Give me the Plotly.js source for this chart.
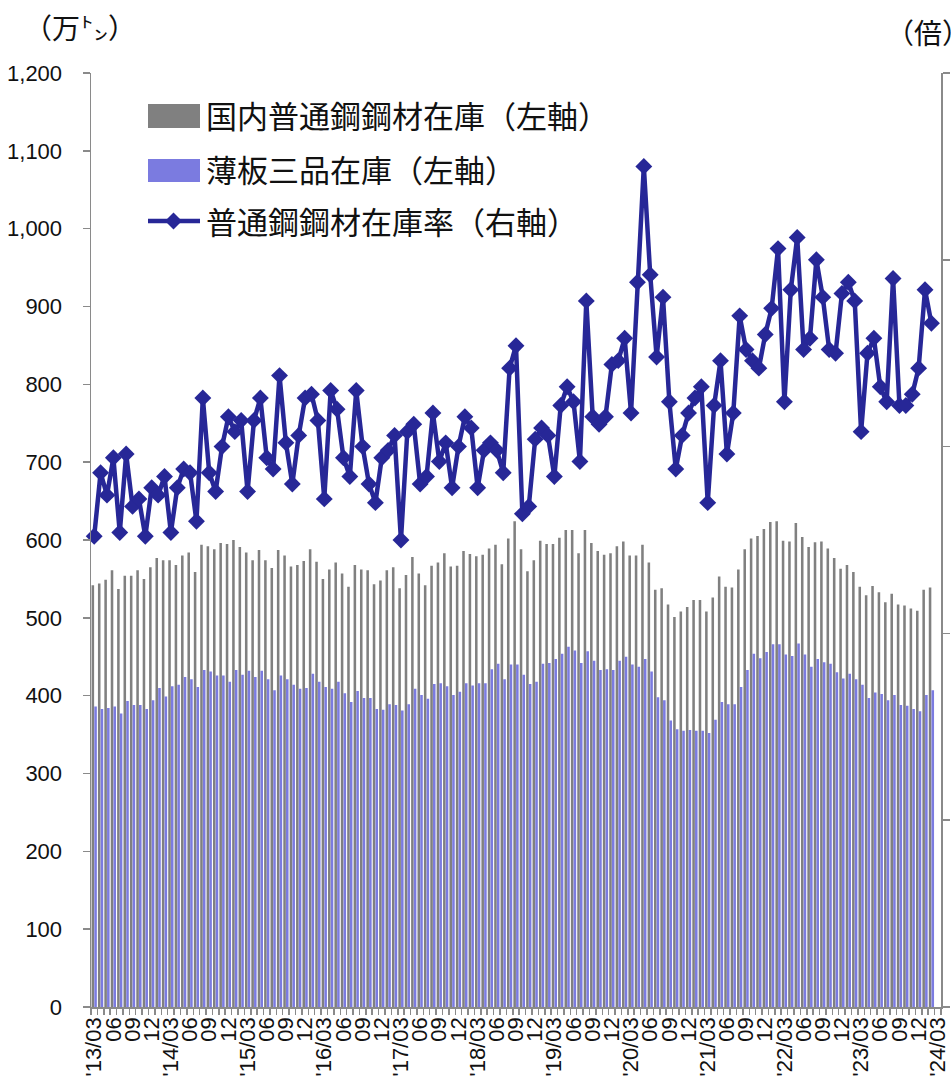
<!DOCTYPE html>
<html><head><meta charset="utf-8">
<script src="https://cdn.plot.ly/plotly-3.0.1.min.js"></script>
<style>html,body{margin:0;padding:0;background:#fff;} #chart{width:951px;height:1085px;}</style>
</head><body><div id="chart"></div>
<script>
// categories: 2013/03 .. 2024/03 (133 months; data through 2024/02)
const months = [];
for (let y = 2013; y <= 2024; y++) {
  for (let m = 1; m <= 12; m++) {
    if ((y === 2013 && m < 3) || (y === 2024 && m > 3)) continue;
    months.push(y + '/' + String(m).padStart(2, '0'));
  }
}
const tickLabels = months.map((s, i) => {
  if (i % 3 !== 0) return '';
  const mm = s.slice(5);
  return mm === '03' ? "'" + s.slice(2) : mm;
});

// 国内普通鋼鋼材在庫（万トン）
const steelStock = [
  542,544,549,561,537,554,554,561,550,565,577,574,
  574,568,580,584,559,594,592,588,596,595,600,591,
  584,574,587,574,564,587,580,566,568,573,588,572,
  550,562,571,557,540,568,562,561,543,548,561,565,
  538,555,578,557,542,567,571,583,566,567,586,582,
  579,581,589,594,569,602,624,588,560,574,599,595,
  595,603,613,613,583,613,596,586,581,583,592,598,
  580,580,594,571,536,538,517,501,508,514,523,523,
  508,526,553,540,539,562,588,602,605,614,623,624,
  599,598,622,604,591,597,598,589,577,563,568,559,
  540,529,541,533,520,531,517,516,512,509,536,539
];
// 薄板三品在庫（万トン）
const sheetStock = [
  386,383,384,386,377,393,388,388,383,394,410,399,
  412,414,424,421,411,433,431,426,426,418,433,427,
  432,424,432,421,407,426,421,414,409,410,428,418,
  411,409,418,403,392,406,397,397,383,382,389,388,
  381,389,409,401,396,415,416,412,401,405,416,413,
  416,416,434,441,421,440,440,427,415,418,441,442,
  447,454,463,458,442,457,445,433,434,433,445,450,
  440,437,447,431,398,394,368,357,355,356,355,355,
  352,369,392,389,389,411,433,454,448,456,466,466,
  453,451,467,453,437,447,443,441,430,422,428,421,
  414,397,404,402,394,401,388,387,383,380,401,407
];
// 普通鋼鋼材在庫率（倍）
const stockRatio = [
  1.26,1.43,1.37,1.47,1.27,1.48,1.34,1.36,1.26,1.39,1.37,1.42,
  1.27,1.39,1.44,1.43,1.30,1.63,1.43,1.38,1.50,1.58,1.54,1.57,
  1.38,1.57,1.63,1.47,1.44,1.69,1.51,1.40,1.53,1.63,1.64,1.57,
  1.36,1.65,1.60,1.47,1.42,1.65,1.50,1.40,1.35,1.47,1.49,1.53,
  1.25,1.54,1.56,1.40,1.42,1.59,1.46,1.51,1.39,1.50,1.58,1.55,
  1.39,1.49,1.51,1.49,1.43,1.71,1.77,1.32,1.34,1.52,1.55,1.53,
  1.42,1.61,1.66,1.62,1.46,1.89,1.58,1.56,1.58,1.72,1.73,1.79,
  1.59,1.94,2.25,1.96,1.74,1.90,1.62,1.44,1.53,1.59,1.63,1.66,
  1.35,1.61,1.73,1.48,1.59,1.85,1.76,1.73,1.71,1.80,1.87,2.03,
  1.62,1.92,2.06,1.76,1.79,2.00,1.90,1.76,1.75,1.91,1.94,1.89,
  1.54,1.75,1.79,1.66,1.62,1.95,1.61,1.61,1.64,1.71,1.92,1.83
];
const leftTicks = [0,100,200,300,400,500,600,700,800,900,1000,1100,1200];
const legendNames = ['国内普通鋼鋼材在庫（左軸）', '薄板三品在庫（左軸）', '普通鋼鋼材在庫率（右軸）'];

const GREY = '#808080', BLUE = '#7b7be0', NAVY = '#272797', AXIS = '#8a8a8a';
const dataMonths = months.slice(0, steelStock.length);

const traces = [
  {type: 'bar', x: dataMonths, y: steelStock, name: legendNames[0], marker: {color: GREY}, hoverinfo: 'x+y'},
  {type: 'bar', x: dataMonths, y: sheetStock, name: legendNames[1], marker: {color: BLUE}, hoverinfo: 'x+y'},
  {type: 'scatter', mode: 'lines+markers', x: dataMonths, y: stockRatio, name: legendNames[2], yaxis: 'y2',
   line: {color: NAVY, width: 4.5}, marker: {symbol: 'diamond', size: 13, color: NAVY}, cliponaxis: false}
];

// plot area in pixels
const L = 91, R = 941, T = 73, B = 1007;
const px = x => (x - L) / (R - L);
const py = y => (B - y) / (B - T);

const shapes = [
  {type: 'rect', xref: 'paper', yref: 'paper', x0: px(148), x1: px(200), y0: py(128), y1: py(104), fillcolor: GREY, line: {width: 0}},
  {type: 'rect', xref: 'paper', yref: 'paper', x0: px(148), x1: px(200), y0: py(182), y1: py(159), fillcolor: BLUE, line: {width: 0}},
  {type: 'line', xref: 'paper', yref: 'paper', x0: px(148), x1: px(200), y0: py(221), y1: py(221), line: {color: NAVY, width: 4.5}},
  {type: 'path', xref: 'paper', yref: 'paper', fillcolor: NAVY, line: {width: 0},
   path: 'M' + px(165) + ',' + py(221) + ' L' + px(173.5) + ',' + py(212.5) + ' L' + px(182) + ',' + py(221) + ' L' + px(173.5) + ',' + py(229.5) + ' Z'}
];
const jp = '"Noto Sans CJK JP", "Noto Sans", sans-serif';
const annFont = {family: jp, size: 31, color: '#111'};
const annotations = [
  {xref: 'paper', yref: 'paper', x: px(204), y: py(114), xanchor: 'left', yanchor: 'middle', text: legendNames[0], showarrow: false, font: annFont},
  {xref: 'paper', yref: 'paper', x: px(204), y: py(168), xanchor: 'left', yanchor: 'middle', text: legendNames[1], showarrow: false, font: annFont},
  {xref: 'paper', yref: 'paper', x: px(204), y: py(221), xanchor: 'left', yanchor: 'middle', text: legendNames[2], showarrow: false, font: annFont},
  {xref: 'paper', yref: 'paper', x: px(22), y: py(27), xanchor: 'left', yanchor: 'middle', text: '（万㌧）', showarrow: false, font: {family: jp, size: 28, color: '#111'}},
  {xref: 'paper', yref: 'paper', x: px(884), y: py(32), xanchor: 'left', yanchor: 'middle', text: '（倍）', showarrow: false, font: {family: jp, size: 28, color: '#111'}}
];

const tickFont = {family: '"Liberation Sans", Arial, sans-serif', size: 22, color: '#111'};
const layout = {
  width: 951, height: 1085,
  margin: {l: L, r: 951 - R, t: T, b: 1085 - B, pad: 0},
  paper_bgcolor: '#fff', plot_bgcolor: '#fff',
  showlegend: false,
  barmode: 'group', bargap: 0.15, bargroupgap: 0.06,
  xaxis: {
    type: 'category', categoryorder: 'array', categoryarray: months,
    range: [-0.5, months.length - 0.5], fixedrange: true,
    tickmode: 'array', tickvals: months, ticktext: tickLabels, tickson: 'boundaries',
    tickangle: -90, ticks: 'outside', ticklen: 6, tickwidth: 1.5, tickcolor: AXIS,
    showline: true, linecolor: AXIS, linewidth: 1.5, showgrid: false, zeroline: false,
    tickfont: tickFont, automargin: false
  },
  yaxis: {
    range: [0, 1200], tickmode: 'array', tickvals: leftTicks, tickformat: ',',
    ticks: 'outside', ticklen: 7, tickwidth: 1.5, tickcolor: AXIS,
    showline: true, linecolor: AXIS, linewidth: 1.5, showgrid: false, zeroline: false,
    tickfont: tickFont, ticklabelstandoff: 16, automargin: false
  },
  yaxis2: {
    overlaying: 'y', side: 'right', range: [0, 2.5], dtick: 0.5, tickformat: '.1f',
    ticks: 'outside', ticklen: 7, tickwidth: 1.5, tickcolor: AXIS,
    showline: true, linecolor: AXIS, linewidth: 1.5, showgrid: false, zeroline: false,
    showticklabels: false, automargin: false
  },
  shapes: shapes,
  annotations: annotations
};
Plotly.newPlot('chart', traces, layout, {displayModeBar: false, staticPlot: true});
</script></body></html>
